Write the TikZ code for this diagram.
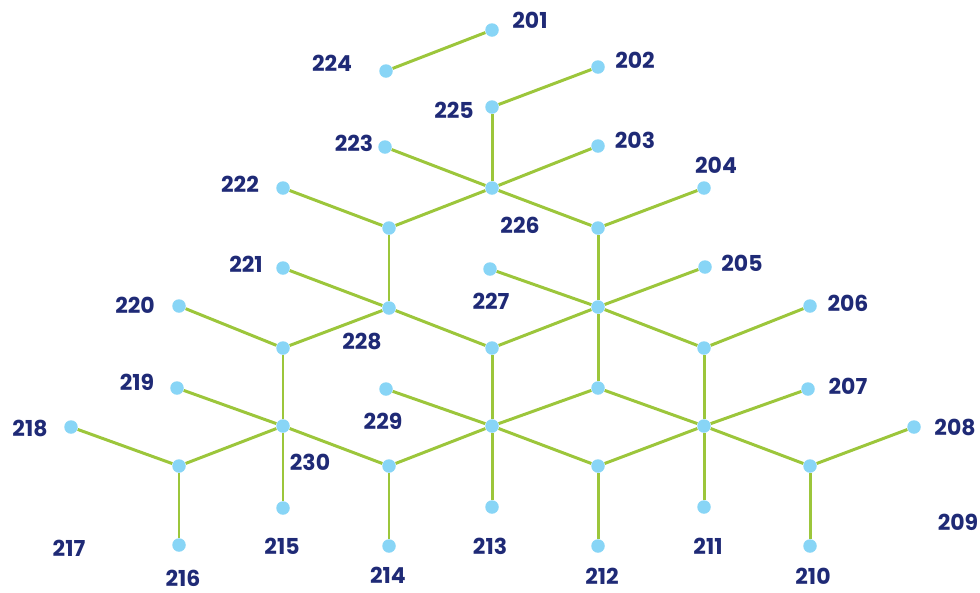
\documentclass[tikz,border=0pt]{standalone}
\usepackage{fontspec}
\setmainfont{Poppins}
\usetikzlibrary{positioning,backgrounds}
\definecolor{stemgreen}{HTML}{9CC63B}
\definecolor{dotblue}{HTML}{88D5F6}
\definecolor{numblue}{HTML}{1F2A76}
\tikzset{
    dot/.style={circle, fill=dotblue, inner sep=0pt, minimum size=0.27cm},
    num/.style={text=numblue, font=\fontsize{12.5}{14}\selectfont\bfseries, inner sep=0pt},
    stem/.style={draw=stemgreen, line width=1.7pt},
}
\begin{document}
\begin{tikzpicture}[x=0.2mm, y=-0.2mm]
        \useasboundingbox (0,0) rectangle (980,592);

        % end points
        \node[dot] (d201) at (492,30) {};
        \node[dot] (d224) at (386,71) {};
        \node[dot] (d202) at (598,67) {};
        \node[dot] (d225) at (492,107) {};
        \node[dot] (d223) at (385,147) {};
        \node[dot] (d203) at (598,146) {};
        \node[dot] (d226) at (492,188) {};
        \node[dot] (d222) at (283,188) {};
        \node[dot] (d204) at (704,188) {};
        \node[dot] (d221) at (283,268) {};
        \node[dot] (d227) at (490,269) {};
        \node[dot] (d205) at (705,267) {};
        \node[dot] (d228) at (389,308) {};
        \node[dot] (d220) at (179,306) {};
        \node[dot] (d206) at (810,306) {};
        \node[dot] (d219) at (177,388) {};
        \node[dot] (d229) at (386,389) {};
        \node[dot] (d207) at (808,389) {};
        \node[dot] (d218) at (71,427) {};
        \node[dot] (d230) at (283,426) {};
        \node[dot] (d208) at (914,427) {};
        \node[dot] (d215) at (283,508) {};
        \node[dot] (d213) at (492,507) {};
        \node[dot] (d211) at (704,507) {};
        \node[dot] (d216) at (179,545) {};
        \node[dot] (d214) at (389,546) {};
        \node[dot] (d212) at (598,546) {};
        \node[dot] (d210) at (810,546) {};

        % unnumbered joints
        \node[dot] (hA) at (389,228) {};
        \node[dot] (hB) at (598,228) {};
        \node[dot] (hC) at (598,307) {};
        \node[dot] (hD) at (283,348) {};
        \node[dot] (hE) at (492,348) {};
        \node[dot] (hF) at (704,348) {};
        \node[dot] (hG) at (598,388) {};
        \node[dot] (hI) at (492,426) {};
        \node[dot] (hJ) at (704,426) {};
        \node[dot] (hK) at (179,466) {};
        \node[dot] (hL) at (389,466) {};
        \node[dot] (hM) at (598,466) {};
        \node[dot] (hN) at (810,466) {};

        % numbers
        \node[num] (l201) at (530,20) {201};
        \node[num] (l202) at (635,60) {202};
        \node[num] (l203) at (635,140) {203};
        \node[num] (l204) at (716,165) {204};
        \node[num] (l205) at (742,263) {205};
        \node[num] (l206) at (848,303) {206};
        \node[num] (l207) at (848,386) {207};
        \node[num] (l208) at (955,427) {208};
        \node[num] (l209) at (958,522) {209};
        \node[num] (l210) at (813,576) {210};
        \node[num] (l211) at (708,546) {211};
        \node[num] (l212) at (602,576) {212};
        \node[num] (l213) at (490,546) {213};
        \node[num] (l214) at (388,575) {214};
        \node[num] (l215) at (282,546) {215};
        \node[num] (l216) at (183,578) {216};
        \node[num] (l217) at (69,548) {217};
        \node[num] (l218) at (30,428) {218};
        \node[num] (l219) at (137,382) {219};
        \node[num] (l220) at (135,305) {220};
        \node[num] (l221) at (246,264) {221};
        \node[num] (l222) at (240,184) {222};
        \node[num] (l223) at (354,143) {223};
        \node[num] (l224) at (332,63) {224};
        \node[num] (l225) at (454,110) {225};
        \node[num] (l226) at (520,225) {226};
        \node[num] (l227) at (491,301) {227};
        \node[num] (l228) at (362,341) {228};
        \node[num] (l229) at (383,421) {229};
        \node[num] (l230) at (310,462) {230};

        \begin{pgfonlayer}{background}
        \begin{scope}[every path/.style={stem}]
            \draw (d224) -- (d201);
            \draw (d225) -- (d202);
            \draw (d225) -- (d226);
            \draw (d223) -- (d226) -- (d203);
            \draw (d226) -- (hA) -- (d222);
            \draw (d226) -- (hB) -- (d204);
            \draw (hA) -- (d228);
            \draw (hB) -- (hC);
            \draw (d221) -- (d228) -- (hE);
            \draw (d228) -- (hD) -- (d220);
            \draw (d227) -- (hC) -- (d205);
            \draw (hC) -- (hE);
            \draw (hC) -- (hF) -- (d206);
            \draw (hC) -- (hG);
            \draw (hD) -- (d230);
            \draw (hE) -- (hI);
            \draw (hF) -- (hJ);
            \draw (d219) -- (d230) -- (hL);
            \draw (d230) -- (hK) -- (d218);
            \draw (d230) -- (d215);
            \draw (d229) -- (hI) -- (hM);
            \draw (hL) -- (hI) -- (hG);
            \draw (hI) -- (d213);
            \draw (hG) -- (hJ) -- (d207);
            \draw (hM) -- (hJ) -- (hN) -- (d208);
            \draw (hJ) -- (d211);
            \draw (hK) -- (d216);
            \draw (hL) -- (d214);
            \draw (hM) -- (d212);
            \draw (hN) -- (d210);
        \end{scope}
        \end{pgfonlayer}
    \end{tikzpicture}
\end{document}
